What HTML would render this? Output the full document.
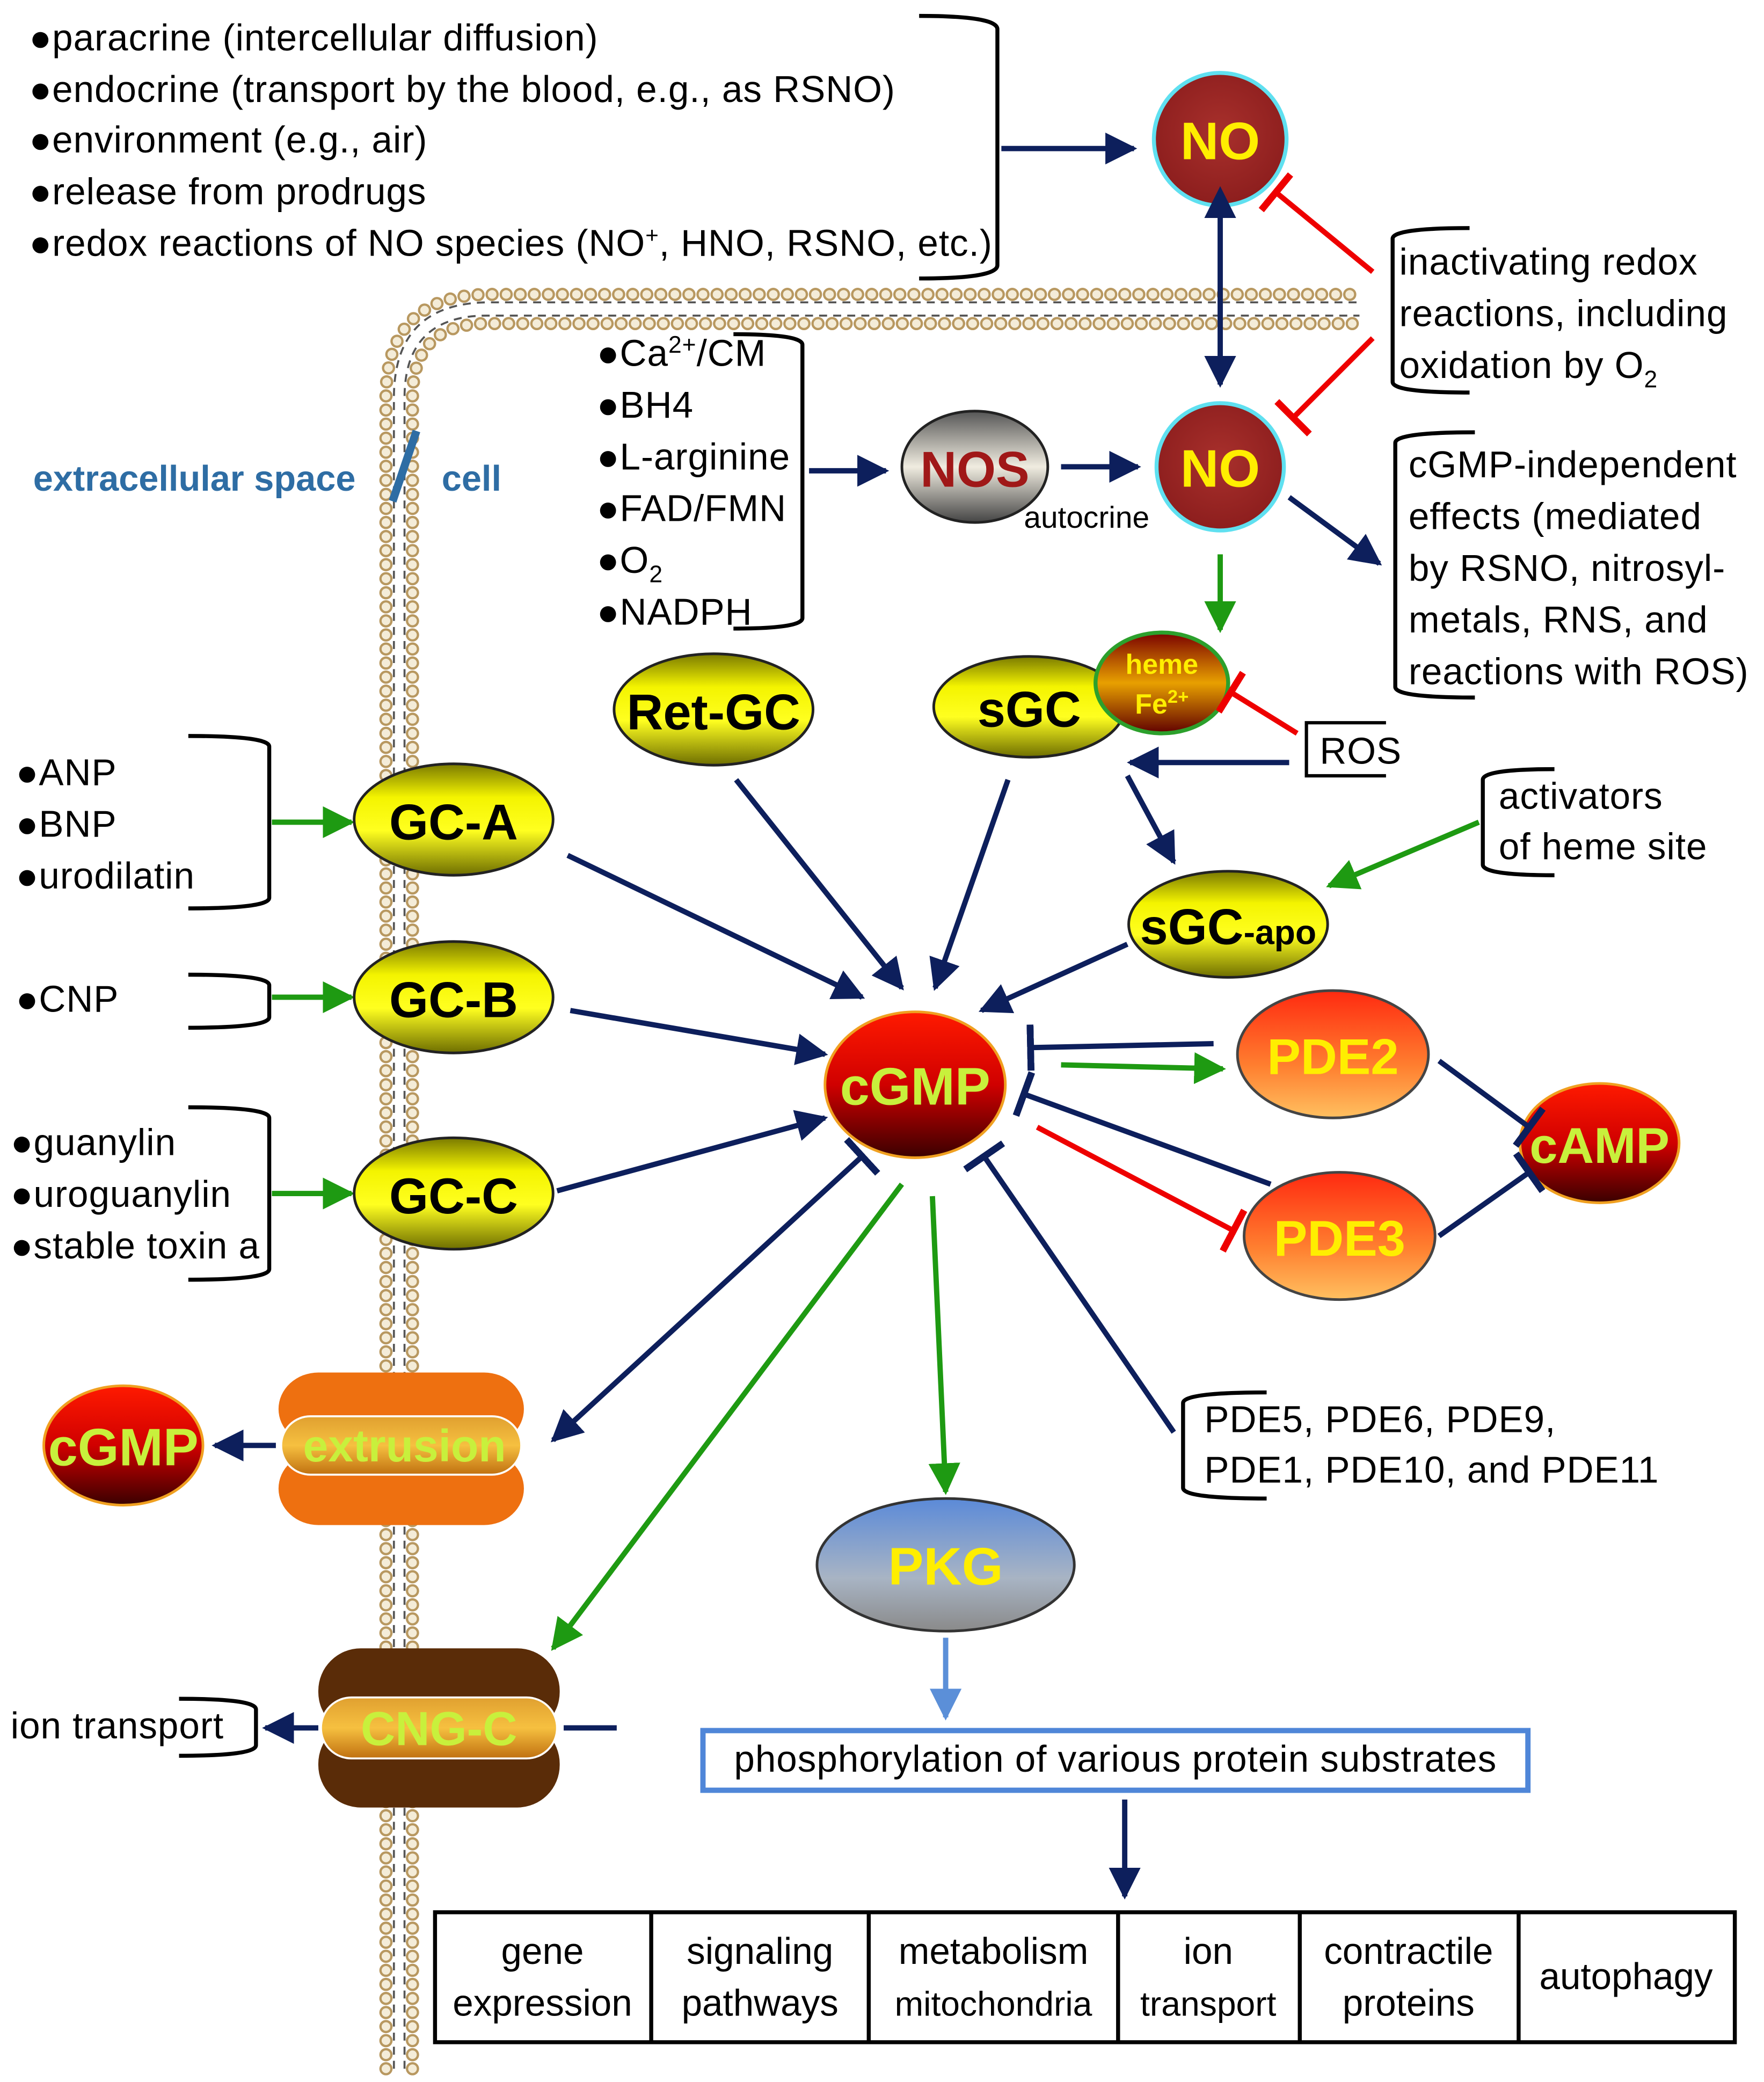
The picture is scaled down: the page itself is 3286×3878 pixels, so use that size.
<!DOCTYPE html>
<html><head><meta charset="utf-8">
<style>
html,body{margin:0;padding:0;background:#fff;}
svg{display:block;}
text{font-family:"Liberation Sans",sans-serif;}
.t{font-size:28px;fill:#000;letter-spacing:0.4px;}
</style></head>
<body>
<svg width="3286" height="3878" viewBox="0 0 1330 1570" preserveAspectRatio="none" xmlns="http://www.w3.org/2000/svg">
<defs>
<marker id="an" viewBox="0 0 10 10" refX="9" refY="5" markerWidth="6" markerHeight="6" orient="auto" markerUnits="strokeWidth"><path d="M0,0 L10,5 L0,10 z" fill="#0d1f5c"/></marker>
<marker id="ans" viewBox="0 0 10 10" refX="1" refY="5" markerWidth="6" markerHeight="6" orient="auto-start-reverse" markerUnits="strokeWidth"><path d="M0,0 L10,5 L0,10 z" fill="#0d1f5c"/></marker>
<marker id="ag" viewBox="0 0 10 10" refX="9" refY="5" markerWidth="6" markerHeight="6" orient="auto" markerUnits="strokeWidth"><path d="M0,0 L10,5 L0,10 z" fill="#1e9a12"/></marker>
<marker id="al" viewBox="0 0 10 10" refX="9" refY="5" markerWidth="6" markerHeight="6" orient="auto" markerUnits="strokeWidth"><path d="M0,0 L10,5 L0,10 z" fill="#5b8fd8"/></marker>
<marker id="tn" viewBox="0 0 3 20" refX="1.5" refY="10" markerWidth="1.3" markerHeight="9" orient="auto" markerUnits="strokeWidth"><rect x="0" y="0" width="3" height="20" fill="#0d1f5c"/></marker>
<marker id="tr" viewBox="0 0 3 20" refX="1.5" refY="10" markerWidth="1.3" markerHeight="9" orient="auto" markerUnits="strokeWidth"><rect x="0" y="0" width="3" height="20" fill="#e00"/></marker>
<radialGradient id="gno" cx="50%" cy="45%" r="60%"><stop offset="0" stop-color="#a8302c"/><stop offset="1" stop-color="#8a1c1c"/></radialGradient>
<linearGradient id="gy" x1="0" y1="0" x2="0" y2="1"><stop offset="0" stop-color="#7a7a00"/><stop offset="0.3" stop-color="#f4f400"/><stop offset="0.6" stop-color="#ffff20"/><stop offset="1" stop-color="#6e6e00"/></linearGradient>
<linearGradient id="gr" x1="0" y1="0" x2="0" y2="1"><stop offset="0" stop-color="#ff1a00"/><stop offset="0.5" stop-color="#d00000"/><stop offset="1" stop-color="#3a0000"/></linearGradient>
<linearGradient id="go" x1="0" y1="0" x2="0" y2="1"><stop offset="0" stop-color="#ff2a10"/><stop offset="0.6" stop-color="#ff8030"/><stop offset="1" stop-color="#ffc060"/></linearGradient>
<linearGradient id="gs" x1="0" y1="0" x2="0" y2="1"><stop offset="0" stop-color="#555"/><stop offset="0.5" stop-color="#f0ece0"/><stop offset="1" stop-color="#444"/></linearGradient>
<linearGradient id="gp" x1="0" y1="0" x2="0" y2="1"><stop offset="0" stop-color="#5b8ad8"/><stop offset="0.6" stop-color="#a8b4c4"/><stop offset="1" stop-color="#8a8a8a"/></linearGradient>
<linearGradient id="gh" x1="0" y1="0" x2="0" y2="1"><stop offset="0" stop-color="#7a0000"/><stop offset="0.5" stop-color="#e8a000"/><stop offset="1" stop-color="#600000"/></linearGradient>
<linearGradient id="gband" x1="0" y1="0" x2="0" y2="1"><stop offset="0" stop-color="#e0a030"/><stop offset="0.5" stop-color="#f6c040"/><stop offset="1" stop-color="#c07010"/></linearGradient>
</defs>

<!-- membrane -->
<g fill="none">
<path d="M297,1560 L297,300 Q297,228 369,228 L1025,228" stroke="#555" stroke-width="1.5" stroke-dasharray="6 4.6"/>
<path d="M305,1560 L305,300 Q305,238 367,238 L1025,238" stroke="#555" stroke-width="1.5" stroke-dasharray="6 4.6"/>
<path d="M291,1560 L291,300 Q291,222 369,222 L1025,222" stroke="#b89860" stroke-width="10" stroke-linecap="round" stroke-dasharray="0 10.6"/>
<path d="M291,1560 L291,300 Q291,222 369,222 L1025,222" stroke="#f4ecd8" stroke-width="6.5" stroke-linecap="round" stroke-dasharray="0 10.6"/>
<path d="M311,1560 L311,300 Q311,244 367,244 L1025,244" stroke="#b89860" stroke-width="10" stroke-linecap="round" stroke-dasharray="0 10.6"/>
<path d="M311,1560 L311,300 Q311,244 367,244 L1025,244" stroke="#f4ecd8" stroke-width="6.5" stroke-linecap="round" stroke-dasharray="0 10.6"/>
</g>

<!-- top list -->
<g class="t">
<text x="22" y="38">●paracrine (intercellular diffusion)</text>
<text x="22" y="77">●endocrine (transport by the blood, e.g., as RSNO)</text>
<text x="22" y="115">●environment (e.g., air)</text>
<text x="22" y="154">●release from prodrugs</text>
<text x="22" y="193">●redox reactions of NO species (NO<tspan font-size="17" dy="-10">+</tspan><tspan dy="10">, HNO, RSNO, etc.)</tspan></text>
</g>
<path d="M693,12 Q752,12 752,22 L752,200 Q752,210 693,210" fill="none" stroke="#000" stroke-width="3"/>
<line x1="755" y1="112" x2="855" y2="112" stroke="#0d1f5c" stroke-width="4" marker-end="url(#an)"/>

<!-- NO top -->
<circle cx="920" cy="105" r="50" fill="url(#gno)" stroke="#5fe0f0" stroke-width="3"/>
<text x="920" y="120" text-anchor="middle" font-size="40" font-weight="bold" fill="#ffee00">NO</text>
<line x1="1035" y1="205" x2="962" y2="145" stroke="#e00" stroke-width="4" marker-end="url(#tr)"/>
<line x1="920" y1="162" x2="920" y2="290" stroke="#0d1f5c" stroke-width="4" marker-end="url(#an)" marker-start="url(#ans)"/>

<!-- inactivating -->
<path d="M1108,172 Q1050,172 1050,180 L1050,288 Q1050,296 1108,296" fill="none" stroke="#000" stroke-width="3"/>
<g class="t"><text x="1055" y="207">inactivating redox</text><text x="1055" y="246">reactions, including</text><text x="1055" y="285">oxidation by O<tspan font-size="18" dy="7">2</tspan></text></g>
<line x1="1035" y1="255" x2="975" y2="315" stroke="#e00" stroke-width="4" marker-end="url(#tr)"/>

<!-- extracellular -->
<text x="25" y="370" font-size="27" font-weight="bold" fill="#2e6da4">extracellular space</text>
<line x1="296" y1="378" x2="314" y2="325" stroke="#2e6da4" stroke-width="6"/>
<text x="333" y="370" font-size="27" font-weight="bold" fill="#2e6da4">cell</text>

<!-- cofactors -->
<g class="t">
<text x="450" y="276">●Ca<tspan font-size="18" dy="-10">2+</tspan><tspan dy="10">/CM</tspan></text>
<text x="450" y="315">●BH4</text>
<text x="450" y="354">●L-arginine</text>
<text x="450" y="393">●FAD/FMN</text>
<text x="450" y="432">●O<tspan font-size="18" dy="7">2</tspan></text>
<text x="450" y="471">●NADPH</text>
</g>
<path d="M553,252 Q605,252 605,260 L605,466 Q605,474 553,474" fill="none" stroke="#000" stroke-width="3"/>
<line x1="610" y1="355" x2="668" y2="355" stroke="#0d1f5c" stroke-width="4" marker-end="url(#an)"/>
<ellipse cx="735" cy="352" rx="55" ry="42" fill="url(#gs)" stroke="#222" stroke-width="2"/>
<text x="735" y="367" text-anchor="middle" font-size="38" font-weight="bold" fill="#a01818">NOS</text>
<line x1="800" y1="352" x2="858" y2="352" stroke="#0d1f5c" stroke-width="4" marker-end="url(#an)"/>
<text x="772" y="398" font-size="23">autocrine</text>

<!-- NO lower -->
<circle cx="920" cy="352" r="48" fill="url(#gno)" stroke="#5fe0f0" stroke-width="3"/>
<text x="920" y="367" text-anchor="middle" font-size="40" font-weight="bold" fill="#ffee00">NO</text>
<line x1="972" y1="375" x2="1040" y2="425" stroke="#0d1f5c" stroke-width="4" marker-end="url(#an)"/>
<path d="M1112,326 Q1052,326 1052,334 L1052,518 Q1052,526 1112,526" fill="none" stroke="#000" stroke-width="3"/>
<g class="t"><text x="1062" y="360">cGMP-independent</text><text x="1062" y="399">effects (mediated</text><text x="1062" y="438">by RSNO, nitrosyl-</text><text x="1062" y="477">metals, RNS, and</text><text x="1062" y="516">reactions with ROS)</text></g>
<line x1="920" y1="418" x2="920" y2="475" stroke="#1e9a12" stroke-width="4" marker-end="url(#ag)"/>

<!-- sGC -->
<ellipse cx="776" cy="533" rx="72" ry="38" fill="url(#gy)" stroke="#222" stroke-width="2"/>
<text x="776" y="548" text-anchor="middle" font-size="38" font-weight="bold">sGC</text>
<ellipse cx="876" cy="515" rx="50" ry="38" fill="url(#gh)" stroke="#2ca02c" stroke-width="3"/>
<text x="876" y="508" text-anchor="middle" font-size="21" font-weight="bold" fill="#ffee00">heme</text>
<text x="876" y="538" text-anchor="middle" font-size="21" font-weight="bold" fill="#ffee00">Fe<tspan font-size="14" dy="-8">2+</tspan></text>
<path d="M1045,545 L985,545 L985,585 L1045,585" fill="none" stroke="#000" stroke-width="2.5"/>
<text x="995" y="576" class="t">ROS</text>
<line x1="978" y1="553" x2="928" y2="522" stroke="#e00" stroke-width="4" marker-end="url(#tr)"/>
<line x1="972" y1="575" x2="852" y2="575" stroke="#0d1f5c" stroke-width="4" marker-end="url(#an)"/>
<line x1="850" y1="585" x2="885" y2="650" stroke="#0d1f5c" stroke-width="4" marker-end="url(#an)"/>

<!-- Ret-GC -->
<ellipse cx="538" cy="535" rx="75" ry="42" fill="url(#gy)" stroke="#222" stroke-width="2"/>
<text x="538" y="550" text-anchor="middle" font-size="38" font-weight="bold">Ret-GC</text>

<!-- sGC-apo -->
<ellipse cx="926" cy="697" rx="75" ry="40" fill="url(#gy)" stroke="#222" stroke-width="2"/>
<text x="926" y="712" text-anchor="middle" font-size="38" font-weight="bold">sGC<tspan font-size="26">-apo</tspan></text>
<path d="M1172,580 Q1118,580 1118,588 L1118,652 Q1118,660 1172,660" fill="none" stroke="#000" stroke-width="3"/>
<g class="t"><text x="1130" y="610">activators</text><text x="1130" y="648">of heme site</text></g>
<line x1="1115" y1="620" x2="1002" y2="668" stroke="#1e9a12" stroke-width="4" marker-end="url(#ag)"/>

<!-- left lists -->
<g class="t">
<text x="12" y="592">●ANP</text><text x="12" y="631">●BNP</text><text x="12" y="670">●urodilatin</text>
<text x="12" y="763">●CNP</text>
<text x="8" y="871">●guanylin</text><text x="8" y="910">●uroguanylin</text><text x="8" y="949">●stable toxin a</text>
</g>
<path d="M142,555 Q203,555 203,563 L203,677 Q203,685 142,685" fill="none" stroke="#000" stroke-width="3"/>
<path d="M142,735 Q203,735 203,743 L203,767 Q203,775 142,775" fill="none" stroke="#000" stroke-width="3"/>
<path d="M142,835 Q203,835 203,843 L203,957 Q203,965 142,965" fill="none" stroke="#000" stroke-width="3"/>
<line x1="205" y1="620" x2="265" y2="620" stroke="#1e9a12" stroke-width="4" marker-end="url(#ag)"/>
<line x1="205" y1="752" x2="265" y2="752" stroke="#1e9a12" stroke-width="4" marker-end="url(#ag)"/>
<line x1="205" y1="900" x2="265" y2="900" stroke="#1e9a12" stroke-width="4" marker-end="url(#ag)"/>

<!-- GCs -->
<ellipse cx="342" cy="618" rx="75" ry="42" fill="url(#gy)" stroke="#222" stroke-width="2"/>
<text x="342" y="633" text-anchor="middle" font-size="38" font-weight="bold">GC-A</text>
<ellipse cx="342" cy="752" rx="75" ry="42" fill="url(#gy)" stroke="#222" stroke-width="2"/>
<text x="342" y="767" text-anchor="middle" font-size="38" font-weight="bold">GC-B</text>
<ellipse cx="342" cy="900" rx="75" ry="42" fill="url(#gy)" stroke="#222" stroke-width="2"/>
<text x="342" y="915" text-anchor="middle" font-size="38" font-weight="bold">GC-C</text>

<!-- arrows into cGMP -->
<g stroke="#0d1f5c" stroke-width="4" marker-end="url(#an)">
<line x1="428" y1="645" x2="650" y2="752"/>
<line x1="430" y1="762" x2="622" y2="795"/>
<line x1="420" y1="898" x2="622" y2="843"/>
<line x1="555" y1="588" x2="680" y2="745"/>
<line x1="760" y1="588" x2="705" y2="745"/>
<line x1="850" y1="712" x2="740" y2="762"/>
</g>

<!-- cGMP -->
<ellipse cx="690" cy="818" rx="68" ry="55" fill="url(#gr)" stroke="#f0a020" stroke-width="2"/>
<text x="690" y="833" text-anchor="middle" font-size="40" font-weight="bold" fill="#c8f03c">cGMP</text>

<!-- PDEs -->
<ellipse cx="1005" cy="795" rx="72" ry="48" fill="url(#go)" stroke="#444" stroke-width="2"/>
<text x="1005" y="810" text-anchor="middle" font-size="38" font-weight="bold" fill="#ffee00">PDE2</text>
<ellipse cx="1010" cy="932" rx="72" ry="48" fill="url(#go)" stroke="#444" stroke-width="2"/>
<text x="1010" y="947" text-anchor="middle" font-size="38" font-weight="bold" fill="#ffee00">PDE3</text>
<ellipse cx="1206" cy="862" rx="60" ry="45" fill="url(#gr)" stroke="#f0a020" stroke-width="2"/>
<text x="1206" y="877" text-anchor="middle" font-size="38" font-weight="bold" fill="#c8f03c">cAMP</text>

<line x1="915" y1="787" x2="777" y2="790" stroke="#0d1f5c" stroke-width="4" marker-end="url(#tn)"/>
<line x1="800" y1="803" x2="922" y2="806" stroke="#1e9a12" stroke-width="4" marker-end="url(#ag)"/>
<line x1="958" y1="893" x2="772" y2="825" stroke="#0d1f5c" stroke-width="4" marker-end="url(#tn)"/>
<line x1="782" y1="850" x2="930" y2="928" stroke="#e00" stroke-width="4" marker-end="url(#tr)"/>
<line x1="1085" y1="800" x2="1153" y2="850" stroke="#0d1f5c" stroke-width="4" marker-end="url(#tn)"/>
<line x1="1085" y1="932" x2="1153" y2="884" stroke="#0d1f5c" stroke-width="4" marker-end="url(#tn)"/>

<!-- PDE5 etc -->
<path d="M955,1050 Q892,1050 892,1058 L892,1122 Q892,1130 955,1130" fill="none" stroke="#000" stroke-width="3"/>
<g class="t"><text x="908" y="1080">PDE5, PDE6, PDE9,</text><text x="908" y="1118">PDE1, PDE10, and PDE11</text></g>
<line x1="885" y1="1080" x2="742" y2="872" stroke="#0d1f5c" stroke-width="4" marker-end="url(#tn)"/>

<!-- cGMP to extrusion -->
<line x1="650" y1="872" x2="417" y2="1086" stroke="#0d1f5c" stroke-width="4" marker-end="url(#an)" marker-start="url(#tn)"/>
<line x1="680" y1="893" x2="417" y2="1243" stroke="#1e9a12" stroke-width="4" marker-end="url(#ag)"/>
<line x1="703" y1="902" x2="713" y2="1125" stroke="#1e9a12" stroke-width="4" marker-end="url(#ag)"/>

<!-- extrusion -->
<rect x="210" y="1035" width="185" height="55" rx="30" fill="#ee7010"/>
<rect x="210" y="1095" width="185" height="55" rx="30" fill="#ee7010"/>
<rect x="212" y="1068" width="181" height="44" rx="22" fill="url(#gband)" stroke="#fff" stroke-width="1.5"/>
<text x="305" y="1102" text-anchor="middle" font-size="34" font-weight="bold" fill="#c8f03c">extrusion</text>
<line x1="208" y1="1090" x2="162" y2="1090" stroke="#0d1f5c" stroke-width="4" marker-end="url(#an)"/>
<ellipse cx="93" cy="1090" rx="60" ry="45" fill="url(#gr)" stroke="#f0a020" stroke-width="2"/>
<text x="93" y="1105" text-anchor="middle" font-size="40" font-weight="bold" fill="#c8f03c">cGMP</text>

<!-- CNG-C -->
<rect x="240" y="1243" width="182" height="65" rx="32" fill="#5a2c08"/>
<rect x="240" y="1298" width="182" height="65" rx="32" fill="#5a2c08"/>
<rect x="242" y="1280" width="178" height="46" rx="23" fill="url(#gband)" stroke="#fff" stroke-width="1.5"/>
<text x="331" y="1316" text-anchor="middle" font-size="36" font-weight="bold" fill="#c8f03c">CNG-C</text>
<line x1="465" y1="1303" x2="425" y2="1303" stroke="#0d1f5c" stroke-width="4"/>
<line x1="240" y1="1303" x2="200" y2="1303" stroke="#0d1f5c" stroke-width="4" marker-end="url(#an)"/>
<path d="M135,1281 Q193,1281 193,1289 L193,1316 Q193,1324 135,1324" fill="none" stroke="#000" stroke-width="3"/>
<text x="8" y="1311" class="t">ion transport</text>

<!-- PKG -->
<ellipse cx="713" cy="1180" rx="97" ry="50" fill="url(#gp)" stroke="#333" stroke-width="2"/>
<text x="713" y="1195" text-anchor="middle" font-size="40" font-weight="bold" fill="#ffee00">PKG</text>
<line x1="713" y1="1235" x2="713" y2="1295" stroke="#5b8fd8" stroke-width="4" marker-end="url(#al)"/>
<rect x="530" y="1305" width="622" height="45" fill="#fff" stroke="#4f86d8" stroke-width="4"/>
<text x="841" y="1336" text-anchor="middle" class="t">phosphorylation of various protein substrates</text>
<line x1="848" y1="1357" x2="848" y2="1430" stroke="#0d1f5c" stroke-width="4" marker-end="url(#an)"/>

<!-- table -->
<rect x="328" y="1442" width="980" height="98" fill="#fff" stroke="#000" stroke-width="3"/>
<g stroke="#000" stroke-width="3">
<line x1="491" y1="1442" x2="491" y2="1540"/><line x1="655" y1="1442" x2="655" y2="1540"/>
<line x1="843" y1="1442" x2="843" y2="1540"/><line x1="980" y1="1442" x2="980" y2="1540"/>
<line x1="1145" y1="1442" x2="1145" y2="1540"/>
</g>
<g class="t" text-anchor="middle" style="letter-spacing:0">
<text x="409" y="1481">gene</text><text x="409" y="1520">expression</text>
<text x="573" y="1481">signaling</text><text x="573" y="1520">pathways</text>
<text x="749" y="1481">metabolism</text><text x="749" y="1520" font-size="26">mitochondria</text>
<text x="911" y="1481">ion</text><text x="911" y="1520" font-size="26">transport</text>
<text x="1062" y="1481">contractile</text><text x="1062" y="1520">proteins</text>
<text x="1226" y="1500">autophagy</text>
</g>
</svg>
</body></html>
